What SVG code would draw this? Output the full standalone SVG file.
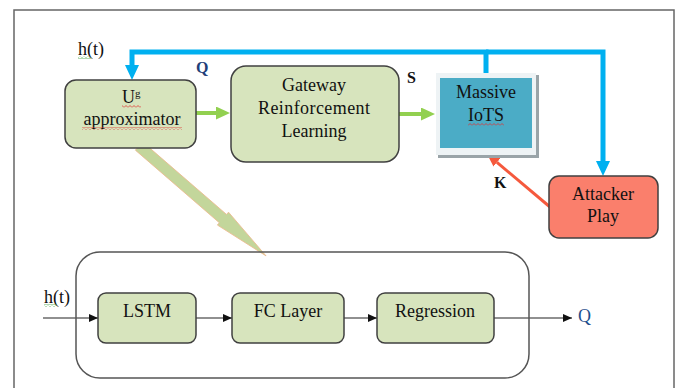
<svg xmlns="http://www.w3.org/2000/svg" width="678" height="388" viewBox="0 0 678 388">
<defs>
<style>
text{font-family:"Liberation Serif","Times New Roman",serif;font-size:18px;fill:#111}
.box{stroke:#404040;stroke-width:1.5}
.g{fill:#D7E4BD}
.lbl{font-weight:bold;font-size:16px}
.blue{fill:none;stroke:#00B0F0;stroke-width:5}
.green{fill:none;stroke:#92D050;stroke-width:4}
.thin{fill:none;stroke:#222;stroke-width:1.2}
</style>
<marker id="mb" markerUnits="userSpaceOnUse" viewBox="0 0 15 14" markerWidth="15" markerHeight="14" refX="0" refY="7" orient="auto"><path d="M0,0 L15,7 L0,14 Z" fill="#00B0F0"/></marker>
<marker id="mg" markerUnits="userSpaceOnUse" viewBox="0 0 14 13" markerWidth="14" markerHeight="13" refX="0" refY="6.5" orient="auto"><path d="M0,0 L14,6.5 L0,13 Z" fill="#92D050"/></marker>
<marker id="mr" markerUnits="userSpaceOnUse" viewBox="0 0 13 11" markerWidth="13" markerHeight="11" refX="0" refY="5.5" orient="auto"><path d="M0,0 L13,5.5 L0,11 Z" fill="#F5593D"/></marker>
<marker id="mk" markerUnits="userSpaceOnUse" viewBox="0 0 9 8" markerWidth="9" markerHeight="8" refX="9" refY="4" orient="auto"><path d="M0,0 L9,4 L0,8 Z" fill="#111"/></marker>
<pattern id="sqr" patternUnits="userSpaceOnUse" width="4" height="3"><polyline points="0,2.5 2,0.5 4,2.5" fill="none" stroke="#E03030" stroke-width="0.8"/></pattern>
<pattern id="sqg" patternUnits="userSpaceOnUse" width="4" height="3"><polyline points="0,2.5 2,0.5 4,2.5" fill="none" stroke="#3CA03C" stroke-width="0.8"/></pattern>
</defs>
<rect x="0" y="0" width="678" height="388" fill="#fff"/>
<rect id="frame" x="14" y="10" width="660" height="400" fill="none" stroke="#666" stroke-width="1.5"/>

<g id="connectors">
<path class="blue" d="M486,73 V52 H132 V65" marker-end="url(#mb)"/>
<path class="blue" d="M486,52 H603 V161" marker-end="url(#mb)"/>
<path class="green" d="M196,113 H216" marker-end="url(#mg)"/>
<path class="green" d="M399,114 H421" marker-end="url(#mg)"/>
<path d="M550,207 L497,162.4" fill="none" stroke="#F5593D" stroke-width="3" marker-end="url(#mr)"/>
<polygon transform="translate(139,146) rotate(40.86)" points="0,-5.5 111,-5.5 111,-8.5 168,0 111,8.5 111,5.5 0,5.5" fill="#C3D69B" stroke="#EDB98E" stroke-width="0.8"/>
<path class="thin" d="M43,318 H98" marker-end="url(#mk)"/>
<path class="thin" d="M196,318 H232" marker-end="url(#mk)"/>
<path class="thin" d="M344,318 H377" marker-end="url(#mk)"/>
<path class="thin" d="M494,318 H572" marker-end="url(#mk)"/>
</g>

<g id="labels">
<text x="78" y="55">h(t)</text>
<rect x="78" y="56" width="13" height="3" fill="url(#sqg)"/>
<text class="lbl" x="196" y="73" fill="#1F3F7A" style="fill:#1F3F7A">Q</text>
<text class="lbl" x="407" y="83">S</text>
<text class="lbl" x="494" y="188">K</text>
<text x="44" y="303">h(t)</text>
<rect x="44" y="304" width="13" height="3" fill="url(#sqg)"/>
<text x="578" y="322" style="fill:#1F4E8C">Q</text>
</g>

<g id="approximator">
<rect class="box g" x="65" y="80" width="131" height="68" rx="11"/>
<text x="122" y="103">U<tspan font-size="11" dy="-6">g</tspan></text>
<rect x="122" y="105" width="19" height="3" fill="url(#sqr)"/>
<text x="132" y="125" text-anchor="middle">approximator</text>
<rect x="82" y="127" width="100" height="3" fill="url(#sqr)"/>
</g>

<g id="gateway">
<rect class="box g" x="231" y="66" width="168" height="96" rx="15"/>
<text x="314" y="91" text-anchor="middle">Gateway</text>
<text x="314" y="114" text-anchor="middle" textLength="112">Reinforcement</text>
<text x="314" y="137" text-anchor="middle">Learning</text>
</g>

<g id="massive-iots">
<rect x="438" y="75" width="101" height="83" fill="#9AA4A8"/>
<rect x="436" y="73" width="100" height="82" fill="#EEF3F5"/>
<rect x="440" y="78" width="92" height="70" fill="#4BACC6"/>
<text x="486" y="98" text-anchor="middle">Massive</text>
<text x="486" y="121" text-anchor="middle">IoTS</text>
<rect x="468" y="123" width="36" height="3" fill="url(#sqr)"/>
</g>

<g id="attacker">
<rect class="box" x="549" y="176" width="109" height="62" rx="10" fill="#FA7F6C"/>
<text x="603" y="200" text-anchor="middle">Attacker</text>
<text x="603" y="222" text-anchor="middle">Play</text>
</g>

<g id="model">
<rect x="76" y="252" width="453" height="126" rx="24" fill="none" stroke="#555" stroke-width="1.5"/>
</g>

<g id="lstm">
<rect class="box g" x="98" y="293" width="98" height="50" rx="8"/>
<text x="147" y="317" text-anchor="middle">LSTM</text>
</g>

<g id="fc-layer">
<rect class="box g" x="232" y="293" width="112" height="50" rx="8"/>
<text x="288" y="317" text-anchor="middle">FC Layer</text>
</g>

<g id="regression">
<rect class="box g" x="377" y="293" width="117" height="50" rx="8"/>
<text x="435" y="317" text-anchor="middle">Regression</text>
</g>
</svg>
